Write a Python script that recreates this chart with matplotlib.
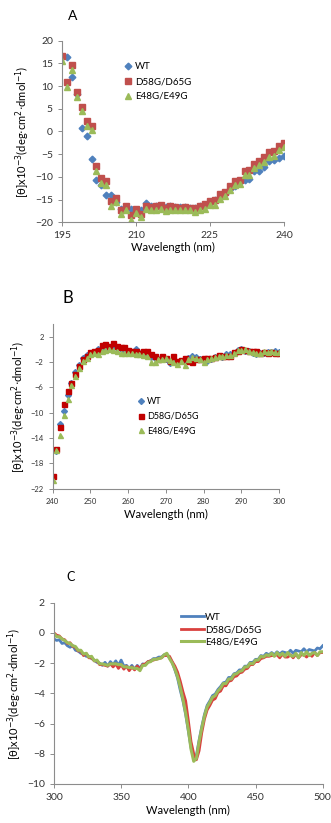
import numpy as np
import matplotlib.pyplot as plt

plt.rcParams['font.family'] = ['Lato', 'DejaVu Sans']
plt.rcParams['mathtext.fontset'] = 'dejavusans'

labels = ['WT', 'D58G/D65G', 'E48G/E49G']

# panel A: far-UV CD, 195-240 nm
wl_a = np.arange(195, 241, 1)
wt_a = [16.5, 16.5, 12.1, 8.2, 0.7, -0.9, -6.0, -10.6, -11.7, -14.0,
        -14.1, -15.6, -17.0, -17.0, -17.1, -17.5, -17.4, -15.8, -16.5, -16.5,
        -16.5, -16.6, -16.5, -16.6, -16.6, -16.6, -16.8, -16.8, -16.4, -16.1,
        -15.8, -15.1, -14.5, -13.8, -12.6, -12.0, -11.2, -10.8, -10.4, -8.8,
        -8.8, -7.9, -6.6, -6.3, -5.9, -5.3]
d58_a = [16.7, 10.9, 14.6, 8.7, 5.5, 2.2, 1.3, -7.6, -10.2, -10.9,
         -15.4, -14.6, -17.4, -16.4, -18.5, -17.1, -18.1, -16.4, -16.6, -16.5,
         -16.2, -16.8, -16.4, -16.6, -16.8, -16.6, -16.8, -16.8, -16.5, -16.0,
         -15.4, -15.2, -13.7, -13.4, -12.0, -11.0, -10.8, -8.8, -8.6, -7.1,
         -6.4, -5.7, -4.6, -4.3, -3.2, -2.6]
e48_a = [15.6, 9.8, 13.5, 7.6, 4.5, 1.3, 0.3, -8.7, -11.3, -11.8,
         -16.4, -15.6, -18.3, -17.3, -19.5, -18.0, -18.8, -17.1, -17.3, -17.4,
         -17.0, -17.6, -17.2, -17.4, -17.4, -17.4, -17.3, -17.8, -17.3, -17.1,
         -16.3, -16.1, -14.8, -14.3, -13.0, -11.9, -11.6, -9.7, -9.5, -8.0,
         -7.4, -6.7, -5.6, -5.3, -4.1, -3.5]

# panel B: near-UV CD, 240-300 nm
wl_b = np.arange(240, 301, 1)
wt_b = [-20.2, -16.1, -11.8, -9.8, -7.2, -5.3, -3.6, -2.4, -1.4, -0.9,
        -0.5, -0.4, 0.0, 0.2, 0.4, 0.0, 0.4, 0.2, 0.0, -0.2,
        -0.4, -0.4, 0.0, -0.5, -0.6, -0.9, -1.2, -1.4, -1.6, -1.6,
        -1.6, -2.1, -2.0, -2.2, -1.9, -1.6, -1.4, -1.0, -1.2, -1.6,
        -1.6, -1.8, -1.5, -1.2, -1.0, -1.2, -0.8, -0.8, -0.5, -0.1,
        0.0, -0.2, -0.3, -0.6, -0.8, -0.6, -0.5, -0.4, -0.4, -0.3, -0.4]
d58_b = [-20.0, -15.7, -12.2, -8.7, -6.6, -5.3, -3.9, -2.7, -1.6, -1.1,
         -0.4, -0.2, -0.1, 0.7, 0.8, 0.6, 1.0, 0.6, 0.4, 0.3,
         -0.1, -0.2, -0.2, -0.5, -0.2, -0.3, -0.8, -1.1, -1.5, -1.1,
         -1.4, -1.8, -1.1, -1.9, -1.7, -1.4, -1.8, -2.0, -1.6, -1.5,
         -1.4, -1.4, -1.4, -1.2, -0.9, -1.1, -1.0, -1.0, -0.4, -0.2,
         0.0, -0.1, -0.3, -0.3, -0.3, -0.6, -0.4, -0.6, -0.4, -0.5, -0.5]
e48_b = [-20.7, -15.9, -13.5, -10.4, -7.8, -5.6, -4.2, -3.0, -1.9, -1.3,
         -0.8, -0.6, -0.7, -0.2, -0.1, 0.1, -0.1, -0.2, -0.5, -0.6,
         -0.6, -0.6, -0.8, -0.8, -0.9, -1.0, -2.0, -2.0, -1.6, -1.5,
         -1.4, -1.7, -2.0, -2.3, -1.8, -2.4, -1.5, -1.2, -1.3, -1.6,
         -2.0, -1.5, -1.3, -1.2, -1.0, -1.1, -0.9, -0.9, -0.5, -0.1,
         -0.1, 0.0, -0.3, -0.4, -0.5, -0.5, -0.3, -0.4, -0.3, -0.4, -0.4]

# panel C: visible CD, 300-500 nm (2 nm steps)
wl_c = np.arange(300, 501, 2)
wt_c = [-0.4, -0.5, -0.45, -0.7, -0.65, -0.85, -0.95, -0.85, -1.15, -1.2,
        -1.35, -1.4, -1.55, -1.55, -1.7, -1.8, -1.95, -2.0, -2.15, -1.95,
        -2.2, -1.9, -2.1, -1.85, -2.15, -1.8, -2.2, -2.15, -2.35, -2.15,
        -2.4, -2.15, -2.35, -2.05, -2.1, -1.9, -1.85, -1.7, -1.7, -1.6,
        -1.6, -1.45, -1.4, -1.65, -1.95, -2.45, -3.0, -3.8, -4.5, -5.4,
        -6.5, -7.6, -8.2, -8.1, -7.1, -6.2, -5.4, -4.8, -4.5, -4.15,
        -4.05, -3.75, -3.55, -3.3, -3.25, -2.95, -2.95, -2.7, -2.65, -2.45,
        -2.45, -2.2, -2.2, -1.95, -1.95, -1.75, -1.75, -1.5, -1.55, -1.35,
        -1.45, -1.3, -1.45, -1.25, -1.4, -1.25, -1.3, -1.35, -1.15, -1.35,
        -1.15, -1.2, -1.25, -1.05, -1.25, -1.1, -1.15, -1.2, -1.0, -1.05, -0.85]
d58_c = [0.0, -0.15, -0.2, -0.4, -0.45, -0.7, -0.65, -0.9, -0.95, -1.2,
         -1.2, -1.5, -1.35, -1.65, -1.65, -1.85, -1.85, -2.1, -2.1, -2.15,
         -2.2, -2.05, -2.25, -2.05, -2.35, -2.1, -2.4, -2.2, -2.5, -2.25,
         -2.45, -2.2, -2.4, -2.1, -2.05, -1.9, -1.85, -1.8, -1.75, -1.7,
         -1.65, -1.5, -1.5, -1.55, -1.9, -2.2, -2.6, -3.2, -3.9, -4.5,
         -5.8, -7.2, -8.0, -8.4, -7.8, -6.6, -5.7, -5.1, -4.8, -4.45,
         -4.35, -3.95, -3.85, -3.5, -3.5, -3.2, -3.15, -2.9, -2.85, -2.65,
         -2.6, -2.4, -2.35, -2.1, -2.1, -1.9, -1.9, -1.7, -1.65, -1.55,
         -1.55, -1.5, -1.5, -1.45, -1.65, -1.4, -1.6, -1.6, -1.45, -1.65,
         -1.4, -1.65, -1.45, -1.45, -1.6, -1.4, -1.55, -1.3, -1.5, -1.3, -1.3]
e48_c = [-0.05, -0.25, -0.25, -0.4, -0.5, -0.65, -0.7, -0.85, -0.9, -1.15,
         -1.15, -1.4, -1.35, -1.6, -1.55, -1.85, -1.8, -2.05, -2.05, -2.1,
         -2.15, -2.05, -2.05, -2.05, -2.1, -2.1, -2.25, -2.25, -2.3, -2.3,
         -2.35, -2.35, -2.5, -2.15, -2.15, -1.95, -1.9, -1.75, -1.75, -1.7,
         -1.65, -1.45, -1.35, -1.7, -2.0, -2.4, -2.9, -3.6, -4.4, -5.3,
         -6.4, -7.7, -8.5, -8.3, -7.2, -6.3, -5.5, -4.9, -4.6, -4.25,
         -4.15, -3.85, -3.65, -3.35, -3.35, -3.05, -3.05, -2.75, -2.7, -2.55,
         -2.5, -2.25, -2.25, -2.0, -2.05, -1.8, -1.8, -1.55, -1.6, -1.45,
         -1.5, -1.35, -1.55, -1.3, -1.5, -1.35, -1.55, -1.3, -1.5, -1.55,
         -1.35, -1.65, -1.3, -1.5, -1.25, -1.5, -1.35, -1.3, -1.5, -1.25, -1.25]

ylab = r'[$\mathrm{\theta}$]x10$^{-3}$(deg$\cdot$cm$^{2}$$\cdot$dmol$^{-1}$)'
axcol = '#8c8c8c'


def style(ax, fs):
    for s in ['top', 'right']:
        ax.spines[s].set_visible(False)
    for s in ['left', 'bottom']:
        ax.spines[s].set_color(axcol)
        ax.spines[s].set_linewidth(0.8)
    ax.tick_params(colors=axcol, labelcolor='#333333', labelsize=fs,
                   length=3, width=0.7, direction='out')


fig = plt.figure(figsize=(3.31, 8.23), dpi=100)

# A
ax = fig.add_axes([0.187, 0.730, 0.671, 0.2205])
ax.plot(wl_a, wt_a, 'D', color='#4F81BD', ms=3.4, ls='none', label=labels[0])
ax.plot(wl_a, d58_a, 's', color='#C0504D', ms=4.6, ls='none', label=labels[1])
ax.plot(wl_a, e48_a, '^', color='#9BBB59', ms=4.6, ls='none', label=labels[2])
ax.set_xlim(195, 240)
ax.set_ylim(-20, 20)
ax.set_xticks([195, 210, 225, 240])
ax.set_yticks(range(-20, 21, 5))
style(ax, 7.5)
ax.set_xlabel('Wavelength (nm)', fontsize=8, labelpad=1)
ax.set_ylabel(ylab, fontsize=8, labelpad=2)
ax.legend(loc='upper left', bbox_to_anchor=(0.35, 0.935), bbox_transform=fig.transFigure,
          frameon=False, fontsize=7, handlelength=0.8, handletextpad=0.3,
          labelspacing=0.6)
fig.text(0.218, 0.981, 'A', fontsize=10, ha='center', va='center')

# B
ax = fig.add_axes([0.159, 0.4062, 0.684, 0.2001])
ax.plot(wl_b, wt_b, 'D', color='#4F81BD', ms=3.0, ls='none', label=labels[0])
ax.plot(wl_b, d58_b, 's', color='#C00000', ms=3.6, ls='none', label=labels[1])
ax.plot(wl_b, e48_b, '^', color='#9BBB59', ms=3.6, ls='none', label=labels[2])
ax.set_xlim(240, 300)
ax.set_ylim(-22, 4)
ax.set_xticks(range(240, 301, 10))
ax.set_yticks(range(-22, 3, 4))
style(ax, 5.5)
ax.set_xlabel('Wavelength (nm)', fontsize=8, labelpad=3)
ax.set_ylabel(ylab, fontsize=8, labelpad=2)
ax.legend(loc='upper left', bbox_to_anchor=(0.39, 0.527), bbox_transform=fig.transFigure,
          frameon=False, fontsize=6.5, handlelength=0.8, handletextpad=0.3,
          labelspacing=0.6)
fig.text(0.205, 0.638, 'B', fontsize=12, ha='center', va='center')

# C
ax = fig.add_axes([0.163, 0.0474, 0.812, 0.2203])
ax.plot(wl_c, wt_c, color='#4F81BD', lw=2, label=labels[0])
ax.plot(wl_c, d58_c, color='#D9413E', lw=2, label=labels[1])
ax.plot(wl_c, e48_c, color='#9BBB59', lw=2.2, label=labels[2])
ax.set_xlim(300, 500)
ax.set_ylim(-10, 2)
ax.set_xticks(range(300, 501, 50))
ax.set_yticks(range(-10, 3, 2))
style(ax, 7.5)
ax.set_xlabel('Wavelength (nm)', fontsize=8, labelpad=2)
ax.set_ylabel(ylab, fontsize=8, labelpad=2)
ax.legend(loc='upper left', bbox_to_anchor=(0.52, 0.266), bbox_transform=fig.transFigure,
          frameon=False, fontsize=7, handlelength=2.4, handletextpad=0.1,
          labelspacing=0.35)
fig.text(0.212, 0.299, 'C', fontsize=9, ha='center', va='center')

fig.savefig('out.png', dpi=100)
